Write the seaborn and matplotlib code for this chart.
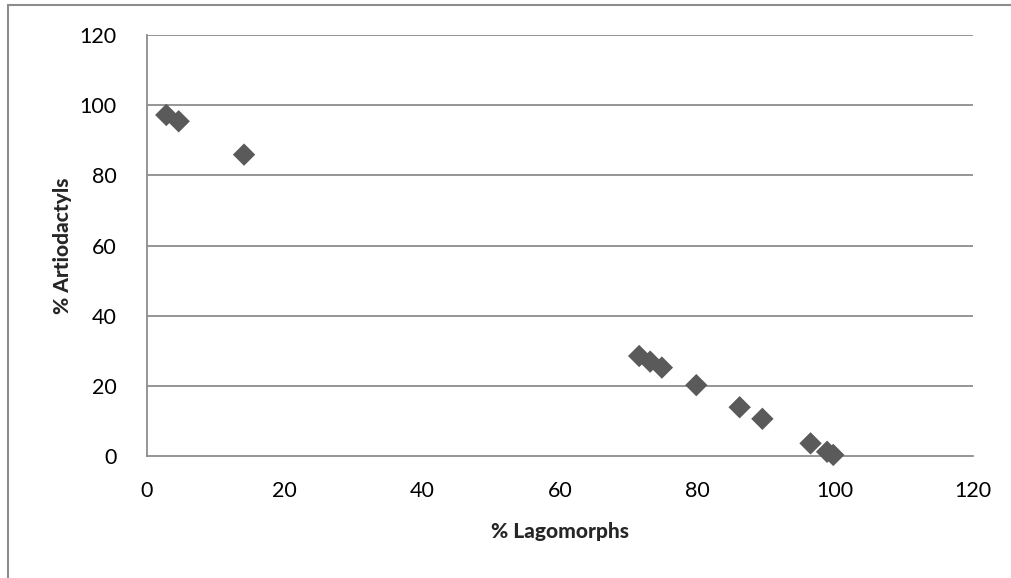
import matplotlib
matplotlib.use("Agg")
import matplotlib.pyplot as plt
import seaborn as sns
import pandas as pd
from matplotlib.lines import Line2D

lagomorphs = [2.8, 4.6, 14.1, 71.5, 73.1, 74.8, 79.8, 86.1, 89.4, 96.4, 98.8, 99.7]
artiodactyls = [97.2, 95.4, 85.9, 28.5, 26.9, 25.2, 20.2, 13.9, 10.6, 3.6, 1.2, 0.3]
x_ticks = [0, 20, 40, 60, 80, 100, 120]
y_ticks = [0, 20, 40, 60, 80, 100, 120]

sns.set_style("white")
plt.rcParams['font.family'] = ['Lato', 'DejaVu Sans']

df = pd.DataFrame({"lag": lagomorphs, "art": artiodactyls})

fig = plt.figure(figsize=(10.11, 5.78), dpi=100)
ax = fig.add_axes([147/1011, 1-456/578, (973-147)/1011, (456-35)/578])

sns.scatterplot(data=df, x="lag", y="art", marker="D", s=130, color="#5a5a5a",
                edgecolor="none", ax=ax, zorder=3, clip_on=False)

ax.set_xlim(0, 120)
ax.set_ylim(0, 120)
ax.set_xticks(x_ticks)
ax.set_yticks(y_ticks)
ax.tick_params(axis='x', length=0, labelsize=15.5, colors="black", pad=18)
ax.tick_params(axis='y', length=0, labelsize=15.5, colors="black", pad=22)
for y in y_ticks[1:]:
    ax.axhline(y, color="#8c8c8c", lw=1.3, zorder=1)
for side in ["top", "right"]:
    ax.spines[side].set_visible(False)
for side in ["left", "bottom"]:
    ax.spines[side].set_color("#8c8c8c")
    ax.spines[side].set_linewidth(1.3)

ax.set_xlabel("% Lagomorphs", fontsize=15, fontweight="black", labelpad=15)
ax.set_ylabel("% Artiodactyls", fontsize=15, fontweight="black", labelpad=5)

# outer chart border (left and top)
fig.add_artist(Line2D([8/1011, 8/1011], [0, 1-5/578], transform=fig.transFigure, color="#8c8c8c", lw=1.5))
fig.add_artist(Line2D([8/1011, 1], [1-5/578, 1-5/578], transform=fig.transFigure, color="#8c8c8c", lw=1.5))

fig.savefig("out.png", dpi=100)
